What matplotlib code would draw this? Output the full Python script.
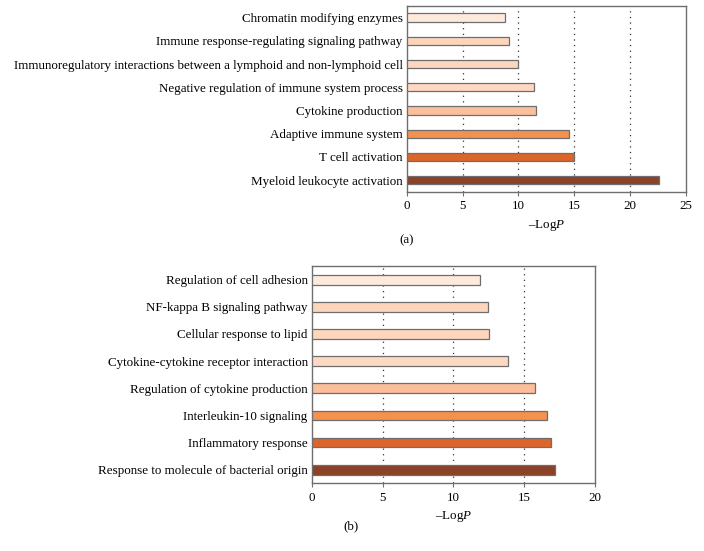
import matplotlib.pyplot as plt
import numpy as np

plt.rcParams["font.family"] = ["Liberation Serif", "DejaVu Serif"]
plt.rcParams["mathtext.fontset"] = "custom"
plt.rcParams["mathtext.it"] = "Liberation Serif:italic"
plt.rcParams["mathtext.rm"] = "Liberation Serif"

# panel (a), top to bottom
TERMS_A = [
    "Chromatin modifying enzymes",
    "Immune response-regulating signaling pathway",
    "Immunoregulatory interactions between a lymphoid and non-lymphoid cell",
    "Negative regulation of immune system process",
    "Cytokine production",
    "Adaptive immune system",
    "T cell activation",
    "Myeloid leukocyte activation",
]
VALUES_A = [8.8, 9.15, 10.0, 11.4, 11.6, 14.5, 14.95, 22.6]

# panel (b), top to bottom
TERMS_B = [
    "Regulation of cell adhesion",
    "NF-kappa B signaling pathway",
    "Cellular response to lipid",
    "Cytokine-cytokine receptor interaction",
    "Regulation of cytokine production",
    "Interleukin-10 signaling",
    "Inflammatory response",
    "Response to molecule of bacterial origin",
]
VALUES_B = [11.9, 12.45, 12.5, 13.85, 15.75, 16.6, 16.9, 17.2]

COLORS = ["#fdeadb", "#fdd5bb", "#fdd6bd", "#fdd9c2",
          "#fbbf9b", "#f4914d", "#dd6529", "#8c4129"]
XTICKS_A = [0, 5, 10, 15, 20, 25]
XTICKS_B = [0, 5, 10, 15, 20]

FS = 9.4

fig = plt.figure(figsize=(7.04, 5.51), dpi=100)
ax_a = fig.add_axes([0.578, 0.652, 0.396, 0.337])
ax_b = fig.add_axes([0.443, 0.123, 0.402, 0.394])


def draw(ax, terms, vals, ticks, letter, letter_x, letter_y):
    y = np.arange(len(terms))
    ax.barh(y, vals, height=0.36, color=COLORS, edgecolor="#6e6e6e",
            linewidth=0.9, zorder=3)
    ax.set_ylim(len(terms) - 0.5, -0.5)
    ax.set_yticks(y)
    ax.set_yticklabels(terms, fontsize=FS)
    ax.set_xlim(ticks[0], ticks[-1])
    ax.set_xticks(ticks)
    ax.set_xticklabels([str(t) for t in ticks], fontsize=FS)
    for t in ticks[1:-1]:
        ax.axvline(t, color="#333333", linestyle=(0, (1, 3.5)),
                   linewidth=0.9, zorder=1)
    for s in ax.spines.values():
        s.set_color("#6e6e6e")
        s.set_linewidth(1.0)
    ax.tick_params(axis="y", length=0, pad=3)
    ax.tick_params(axis="x", length=3, color="#6e6e6e", pad=3)
    ax.set_xlabel(r"–Log$\mathit{P}$", fontsize=FS, labelpad=4)
    ax.text(letter_x, letter_y, letter, transform=ax.transAxes,
            ha="center", va="center", fontsize=FS)


draw(ax_a, TERMS_A, VALUES_A, XTICKS_A, "(a)", 0.0, -0.26)
draw(ax_b, TERMS_B, VALUES_B, XTICKS_B, "(b)", 0.14, -0.20)

fig.savefig("out.png", dpi=100)
